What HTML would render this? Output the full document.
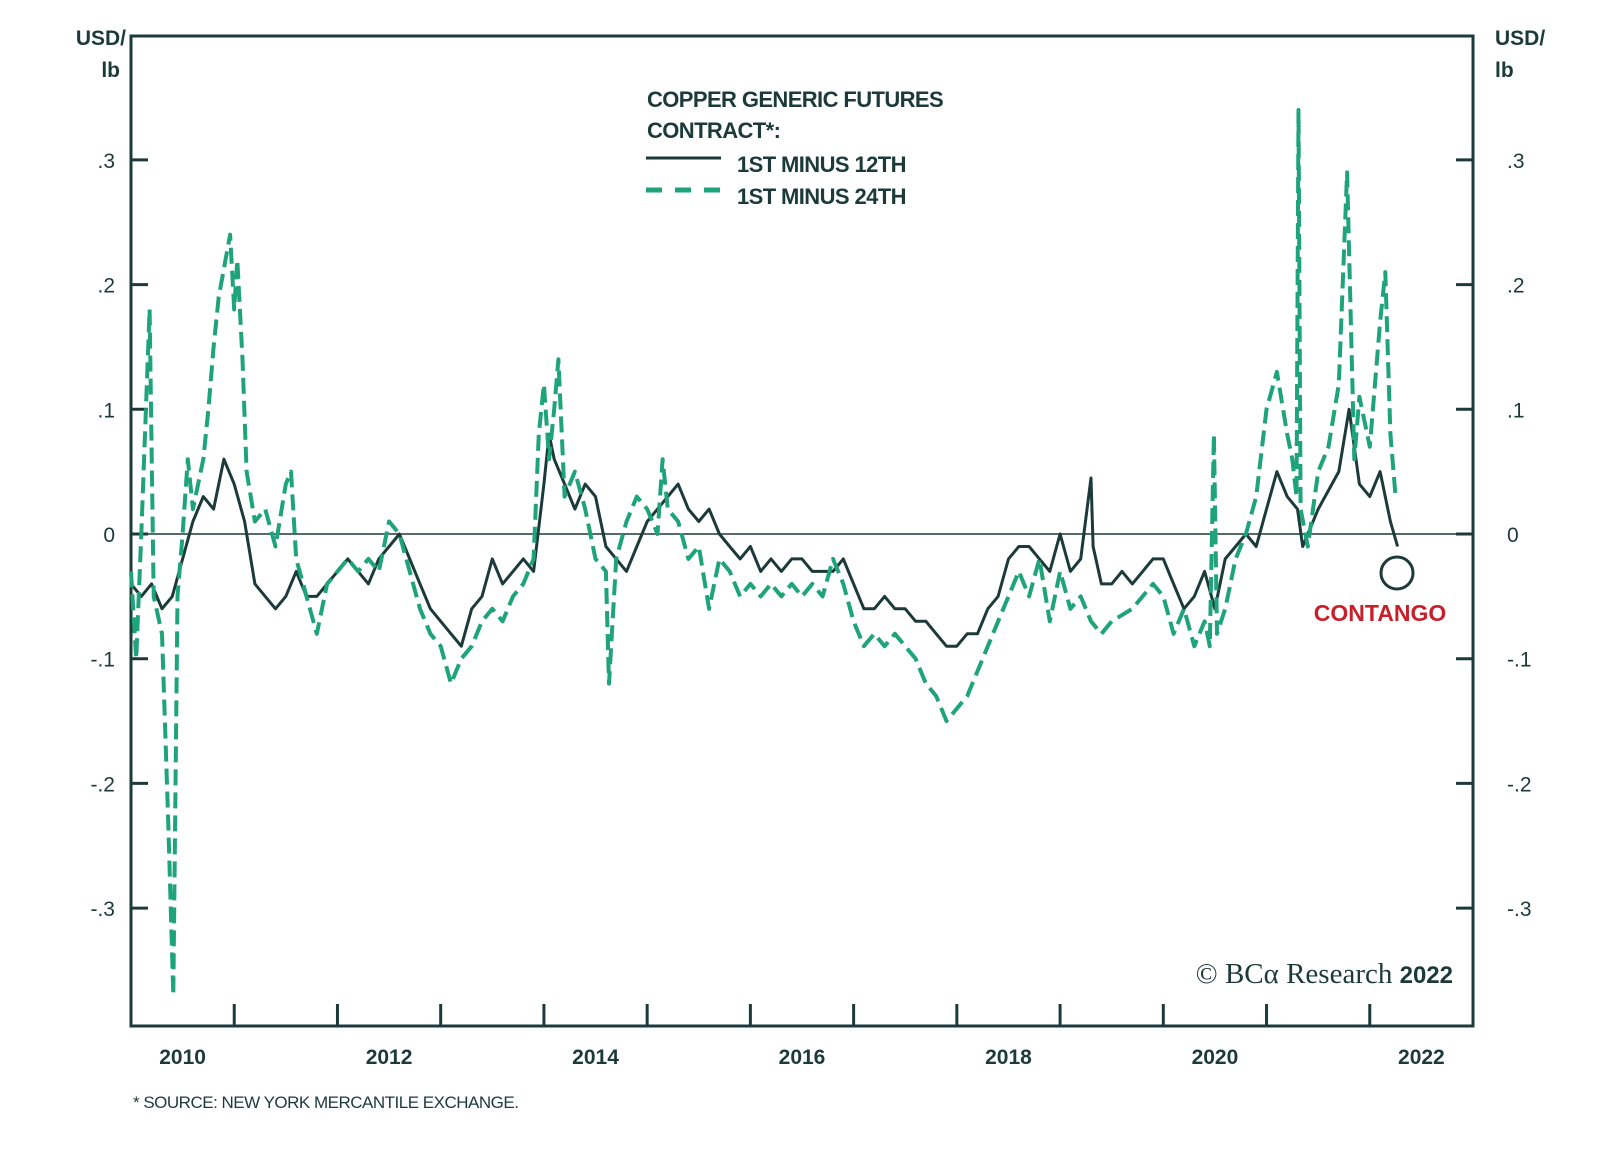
<!DOCTYPE html>
<html><head><meta charset="utf-8"><style>
html,body{margin:0;padding:0;background:#fff;}
svg{display:block;font-family:"Liberation Sans",sans-serif;}
</style></head><body>
<svg id="chart" width="1600" height="1151" viewBox="0 0 1600 1151" xmlns="http://www.w3.org/2000/svg">
<g id="axes"></g>
<g id="series"></g>
<g font-weight="bold" font-size="22" fill="#1d3a3a" letter-spacing="-0.6">
  <text x="647" y="107">COPPER GENERIC FUTURES</text>
  <text x="647" y="138">CONTRACT*:</text>
  <line x1="646" y1="158" x2="721" y2="158" stroke="#1d3a3a" stroke-width="3"/>
  <text x="737" y="172">1ST MINUS 12TH</text>
  <line x1="646" y1="190" x2="721" y2="190" stroke="#1ea37a" stroke-width="5" stroke-dasharray="16,13"/>
  <text x="737" y="204">1ST MINUS 24TH</text>
</g>
<circle cx="1397" cy="573" r="16" fill="none" stroke="#1d3a3a" stroke-width="3"/>
<text x="1380" y="621" text-anchor="middle" font-size="23" font-weight="bold" fill="#c8202a">CONTANGO</text>
<text x="1453" y="983" text-anchor="end" font-family="Liberation Serif,serif" font-size="29" fill="#1d3a3a">© BCα Research <tspan font-family="Liberation Sans,sans-serif" font-weight="bold" font-size="24">2022</tspan></text>
<text x="133" y="1108" font-size="17" fill="#1d3a3a" letter-spacing="-0.5">*  SOURCE: NEW YORK MERCANTILE EXCHANGE.</text>
</svg>
<script>
const years = ["2010","2012","2014","2016","2018","2020","2022"];
const yTicks = [0.3,0.2,0.1,0,-0.1,-0.2,-0.3];
const yTickLabels = [".3",".2",".1","0","-.1","-.2","-.3"];
const dates12 = [2010.0,2010.1,2010.2,2010.3,2010.4,2010.5,2010.6,2010.7,2010.8,2010.9,2011.0,2011.1,2011.2,2011.3,2011.4,2011.5,2011.6,2011.7,2011.8,2011.9,2012.0,2012.1,2012.2,2012.3,2012.4,2012.5,2012.6,2012.7,2012.8,2012.9,2013.0,2013.1,2013.2,2013.3,2013.4,2013.5,2013.6,2013.7,2013.8,2013.9,2014.0,2014.05,2014.1,2014.2,2014.3,2014.4,2014.5,2014.6,2014.7,2014.8,2014.9,2015.0,2015.1,2015.2,2015.3,2015.4,2015.5,2015.6,2015.7,2015.8,2015.9,2016.0,2016.1,2016.2,2016.3,2016.4,2016.5,2016.6,2016.7,2016.8,2016.9,2017.0,2017.1,2017.2,2017.3,2017.4,2017.5,2017.6,2017.7,2017.8,2017.9,2018.0,2018.1,2018.2,2018.3,2018.4,2018.5,2018.6,2018.7,2018.8,2018.9,2019.0,2019.1,2019.2,2019.3,2019.32,2019.4,2019.5,2019.6,2019.7,2019.8,2019.9,2020.0,2020.1,2020.2,2020.3,2020.4,2020.5,2020.6,2020.7,2020.8,2020.9,2021.0,2021.1,2021.2,2021.3,2021.35,2021.5,2021.7,2021.8,2021.9,2022.0,2022.1,2022.2,2022.27];
const vals12 = [-0.04,-0.05,-0.04,-0.06,-0.05,-0.02,0.01,0.03,0.02,0.06,0.04,0.01,-0.04,-0.05,-0.06,-0.05,-0.03,-0.05,-0.05,-0.04,-0.03,-0.02,-0.03,-0.04,-0.02,-0.01,0.0,-0.02,-0.04,-0.06,-0.07,-0.08,-0.09,-0.06,-0.05,-0.02,-0.04,-0.03,-0.02,-0.03,0.04,0.08,0.06,0.04,0.02,0.04,0.03,-0.01,-0.02,-0.03,-0.01,0.01,0.02,0.03,0.04,0.02,0.01,0.02,0.0,-0.01,-0.02,-0.01,-0.03,-0.02,-0.03,-0.02,-0.02,-0.03,-0.03,-0.03,-0.02,-0.04,-0.06,-0.06,-0.05,-0.06,-0.06,-0.07,-0.07,-0.08,-0.09,-0.09,-0.08,-0.08,-0.06,-0.05,-0.02,-0.01,-0.01,-0.02,-0.03,0.0,-0.03,-0.02,0.045,-0.01,-0.04,-0.04,-0.03,-0.04,-0.03,-0.02,-0.02,-0.04,-0.06,-0.05,-0.03,-0.06,-0.02,-0.01,0.0,-0.01,0.02,0.05,0.03,0.02,-0.01,0.02,0.05,0.1,0.04,0.03,0.05,0.01,-0.01];
const dates24 = [2010.0,2010.05,2010.1,2010.18,2010.22,2010.3,2010.36,2010.41,2010.45,2010.5,2010.55,2010.6,2010.7,2010.75,2010.8,2010.85,2010.96,2011.0,2011.03,2011.08,2011.12,2011.2,2011.3,2011.4,2011.5,2011.55,2011.6,2011.7,2011.8,2011.9,2012.0,2012.1,2012.2,2012.3,2012.4,2012.5,2012.6,2012.7,2012.8,2012.9,2013.0,2013.1,2013.2,2013.3,2013.4,2013.5,2013.6,2013.7,2013.8,2013.9,2013.95,2014.0,2014.05,2014.1,2014.14,2014.2,2014.3,2014.4,2014.5,2014.6,2014.63,2014.7,2014.8,2014.9,2015.0,2015.1,2015.15,2015.2,2015.3,2015.4,2015.5,2015.6,2015.7,2015.8,2015.9,2016.0,2016.1,2016.2,2016.3,2016.4,2016.5,2016.6,2016.7,2016.8,2016.9,2017.0,2017.1,2017.2,2017.3,2017.4,2017.5,2017.6,2017.7,2017.8,2017.9,2018.0,2018.1,2018.2,2018.3,2018.4,2018.5,2018.6,2018.7,2018.8,2018.9,2019.0,2019.1,2019.2,2019.3,2019.4,2019.5,2019.7,2019.9,2020.0,2020.1,2020.2,2020.3,2020.4,2020.45,2020.49,2020.52,2020.6,2020.7,2020.8,2020.9,2021.0,2021.1,2021.2,2021.25,2021.29,2021.31,2021.33,2021.4,2021.5,2021.6,2021.7,2021.78,2021.85,2021.9,2022.0,2022.1,2022.15,2022.2,2022.25];
const vals24 = [-0.03,-0.1,0.0,0.18,-0.05,-0.08,-0.23,-0.37,-0.05,0.0,0.06,0.02,0.06,0.1,0.15,0.19,0.24,0.18,0.22,0.14,0.05,0.01,0.02,-0.01,0.04,0.05,-0.02,-0.05,-0.08,-0.04,-0.03,-0.02,-0.03,-0.02,-0.03,0.01,0.0,-0.03,-0.06,-0.08,-0.09,-0.12,-0.1,-0.09,-0.07,-0.06,-0.07,-0.05,-0.04,-0.02,0.08,0.12,0.06,0.1,0.14,0.03,0.05,0.02,-0.02,-0.03,-0.12,-0.02,0.01,0.03,0.02,0.0,0.06,0.02,0.01,-0.02,-0.01,-0.06,-0.02,-0.03,-0.05,-0.04,-0.05,-0.04,-0.05,-0.04,-0.05,-0.04,-0.05,-0.02,-0.04,-0.07,-0.09,-0.08,-0.09,-0.08,-0.09,-0.1,-0.12,-0.13,-0.15,-0.14,-0.13,-0.11,-0.09,-0.07,-0.05,-0.03,-0.05,-0.02,-0.07,-0.03,-0.06,-0.05,-0.07,-0.08,-0.07,-0.06,-0.04,-0.05,-0.08,-0.06,-0.09,-0.07,-0.09,0.08,-0.08,-0.06,-0.02,0.0,0.03,0.1,0.13,0.08,0.06,0.03,0.34,0.02,-0.01,0.05,0.07,0.12,0.29,0.06,0.11,0.07,0.17,0.21,0.08,0.03];

const NS="http://www.w3.org/2000/svg";
const L=131,R=1473,T=36,B=1026,Y0=2010,Y1=2023;
const x=d=>L+(d-Y0)/(Y1-Y0)*(R-L);
const yZero=534,perUnit=1247;
const y=v=>yZero-v*perUnit;
const DARK="#1d3a3a",GREEN="#1ea37a";
function mk(tag,attrs,parent){const e=document.createElementNS(NS,tag);for(const k in attrs)e.setAttribute(k,attrs[k]);parent.appendChild(e);return e;}
const ax=document.getElementById('axes');
let el=mk('line',{x1:L,y1:y(0),x2:R,y2:y(0),stroke:DARK,'stroke-width':1.5},ax);


el=mk('rect',{x:L,y:T,width:R-L,height:B-T,fill:'none',stroke:DARK,'stroke-width':3},ax);


yTicks.forEach((v,i)=>{
  mk('line',{x1:L,y1:y(v),x2:L+17,y2:y(v),stroke:DARK,'stroke-width':3},ax);
  mk('line',{x1:R-17,y1:y(v),x2:R,y2:y(v),stroke:DARK,'stroke-width':3},ax);
  let t=mk('text',{x:115,y:y(v)+8,'text-anchor':'end','font-size':21,fill:DARK},ax);
  t.textContent=yTickLabels[i];
  
  
  t=mk('text',{x:1507,y:y(v)+8,'text-anchor':'start','font-size':21,fill:DARK},ax);
  t.textContent=yTickLabels[i];
  
  
});
for(let yr=2011;yr<=2022;yr++){mk('line',{x1:x(yr),y1:B,x2:x(yr),y2:B-22,stroke:DARK,'stroke-width':3},ax);}
years.forEach(s=>{
  const t=mk('text',{x:x(+s+0.5),y:1064,'text-anchor':'middle','font-size':21,'font-weight':'bold',fill:DARK},ax);
  t.textContent=s;
  
  
});
[[126,'end'],[1495,'start']].forEach(([xx,a])=>{
  let t=mk('text',{x:xx,y:45,'text-anchor':a,'font-size':21,'font-weight':'bold',fill:DARK},ax);t.textContent='USD/';
  
  
  t=mk('text',{x:a==='end'?120:1495,y:77,'text-anchor':a,'font-size':21,'font-weight':'bold',fill:DARK},ax);t.textContent='lb';
  
  
});
const sg=document.getElementById('series');
const pts=(ds,vs)=>ds.map((d,i)=>x(d).toFixed(1)+','+y(vs[i]).toFixed(1)).join(' ');
el=mk('polyline',{points:pts(dates12,vals12),fill:'none',stroke:DARK,'stroke-width':3,'stroke-linejoin':'round'},sg);


el=mk('polyline',{points:pts(dates24,vals24),fill:'none',stroke:GREEN,'stroke-width':4,'stroke-dasharray':'16,7','stroke-linejoin':'round'},sg);


</script>
</body></html>
